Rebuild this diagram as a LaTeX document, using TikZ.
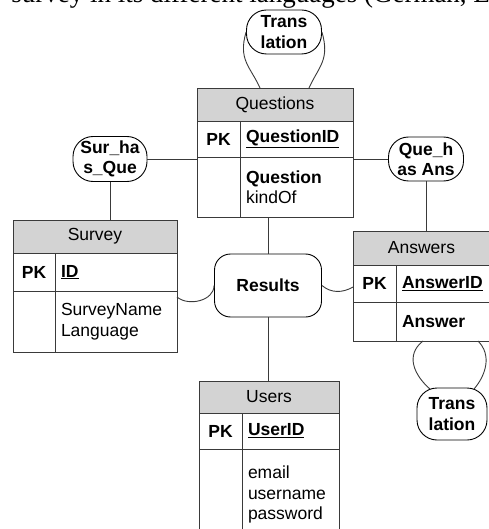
\documentclass[tikz,border=0pt]{standalone}
\usepackage{fontspec}
\setmainfont{Liberation Sans}
\newfontfamily\textoserif{Liberation Serif}
\usetikzlibrary{calc,positioning}
\definecolor{ERGris}{HTML}{D3D3D3}
\definecolor{ERLinea}{HTML}{3A3A3A}

\begin{document}
\begin{tikzpicture}[
      x=1pt, y=-1pt,
      cabecera/.style={rectangle, draw=ERLinea, line width=0.9pt, fill=ERGris,
        anchor=north west, inner sep=0pt, outer sep=0pt,
        font=\fontsize{17.5}{20.5}\selectfont},
      celda/.style={rectangle, draw=ERLinea, line width=0.9pt,
        anchor=north west, inner sep=0pt, outer sep=0pt,
        font=\fontsize{17.5}{20.5}\selectfont\bfseries},
      campos/.style={rectangle, draw=ERLinea, line width=0.9pt,
        anchor=north west, inner xsep=6pt, inner ysep=0pt, outer sep=0pt,
        align=left, font=\fontsize{17.5}{20.5}\selectfont},
      relacion/.style={rectangle, rounded corners=20pt, draw=black,
        line width=0.9pt, fill=white, align=center, inner sep=0pt,
        font=\fontsize{17.5}{20.5}\selectfont\bfseries},
      linea/.style={draw=ERLinea, line width=0.9pt},
    ]

    \useasboundingbox (0,0) rectangle (488,529);

    \node[anchor=base east, font=\textoserif\fontsize{27}{30}\selectfont]
      (encabezado) at (493.5,3) {survey in its different languages (German, E};

    % Questions
    \node[cabecera, minimum width=156pt, minimum height=33pt] (qhead) at (197,88) {Questions};
    \node[celda, minimum width=43pt, minimum height=36pt] (qpk) at (qhead.south west) {PK};
    \node[campos, text width=101pt, minimum height=36pt] (qkey) at (qpk.north east) {\underline{\textbf{QuestionID}}};
    \node[celda, minimum width=43pt, minimum height=60pt] (qblank) at (qpk.south west) {};
    \node[campos, text width=101pt, minimum height=60pt] (qattr) at (qblank.north east) {\textbf{Question}\\kindOf};

    % Survey
    \node[cabecera, minimum width=164pt, minimum height=33pt] (shead) at (13,220) {Survey};
    \node[celda, minimum width=42pt, minimum height=38pt] (spk) at (shead.south west) {PK};
    \node[campos, text width=110pt, minimum height=38pt] (skey) at (spk.north east) {\underline{\textbf{ID}}};
    \node[celda, minimum width=42pt, minimum height=61pt] (sblank) at (spk.south west) {};
    \node[campos, text width=110pt, minimum height=61pt] (sattr) at (sblank.north east) {SurveyName\\Language};

    % Answers
    \node[cabecera, minimum width=137pt, minimum height=34pt] (ahead) at (353,231) {Answers};
    \node[celda, minimum width=43pt, minimum height=37pt] (apk) at (ahead.south west) {PK};
    \node[campos, text width=82pt, minimum height=37pt] (akey) at (apk.north east) {\underline{\textbf{AnswerID}}};
    \node[celda, minimum width=43pt, minimum height=39pt] (ablank) at (apk.south west) {};
    \node[campos, text width=82pt, minimum height=39pt] (aattr) at (ablank.north east) {\textbf{Answer}};

    % Users
    \node[cabecera, minimum width=140pt, minimum height=32pt] (uhead) at (199,381) {Users};
    \node[celda, minimum width=43pt, minimum height=36pt] (upk) at (uhead.south west) {PK};
    \node[campos, text width=85pt, minimum height=36pt] (ukey) at (upk.north east) {\underline{\textbf{UserID}}};
    \node[celda, minimum width=43pt, minimum height=91pt] (ublank) at (upk.south west) {};
    \node[campos, text width=85pt, minimum height=91pt] (uattr) at (ublank.north east) {email\\username\\password};

    % relaciones
    \node[relacion, minimum width=75pt, minimum height=44pt] (ttop) at (284,32)  {Trans\\lation};
    \node[relacion, minimum width=74pt, minimum height=45pt] (surq) at (110,159) {Sur\_ha\\s\_Que};
    \node[relacion, minimum width=75pt, minimum height=44pt] (quea) at (426,159) {Que\_h\\as Ans};
    \node[relacion, rounded corners=16pt, minimum width=107pt, minimum height=63pt] (res) at (268,285.5) {Results};
    \node[relacion, minimum width=70pt, minimum height=52pt] (tbot) at (452,414) {Trans\\lation};

    \coordinate (qloopl) at (260,88);
    \coordinate (qloopr) at (309,88);
    \coordinate (aloopl) at (423,341);
    \coordinate (aloopr) at (478,341);
    \coordinate (sres) at (177,297);
    \coordinate (ares) at (353,287);

    \draw[linea] (ttop.west) .. controls +(-8,28) and +(-10,-22) .. (qloopl);
    \draw[linea] (ttop.east) .. controls +(8,28) and +(10,-22) .. (qloopr);
    \draw[linea] (aloopl) .. controls +(-18,14) and +(-16,-14) .. ([xshift=-22pt, yshift=-1.5pt]tbot.north);
    \draw[linea] (aloopr) .. controls +(14,14) and +(12,-14) .. ([xshift=22pt, yshift=-1.5pt]tbot.north);
    \draw[linea] (surq.east) -- (surq.east -| qhead.west);
    \draw[linea] (surq.south) -- (surq.south |- shead.north);
    \draw[linea] (quea.west) -- (quea.west -| qhead.east);
    \draw[linea] (quea.south) -- (quea.south |- ahead.north);
    \draw[linea] (res.north) -- (res.north |- qattr.south);
    \draw[linea] (res.south) -- (res.south |- uhead.north);
    \draw[linea] (sres) to[out=-40, in=270] (res.west);
    \draw[linea] (res.east) to[out=-40, in=210] (ares);

  \end{tikzpicture}
\end{document}
